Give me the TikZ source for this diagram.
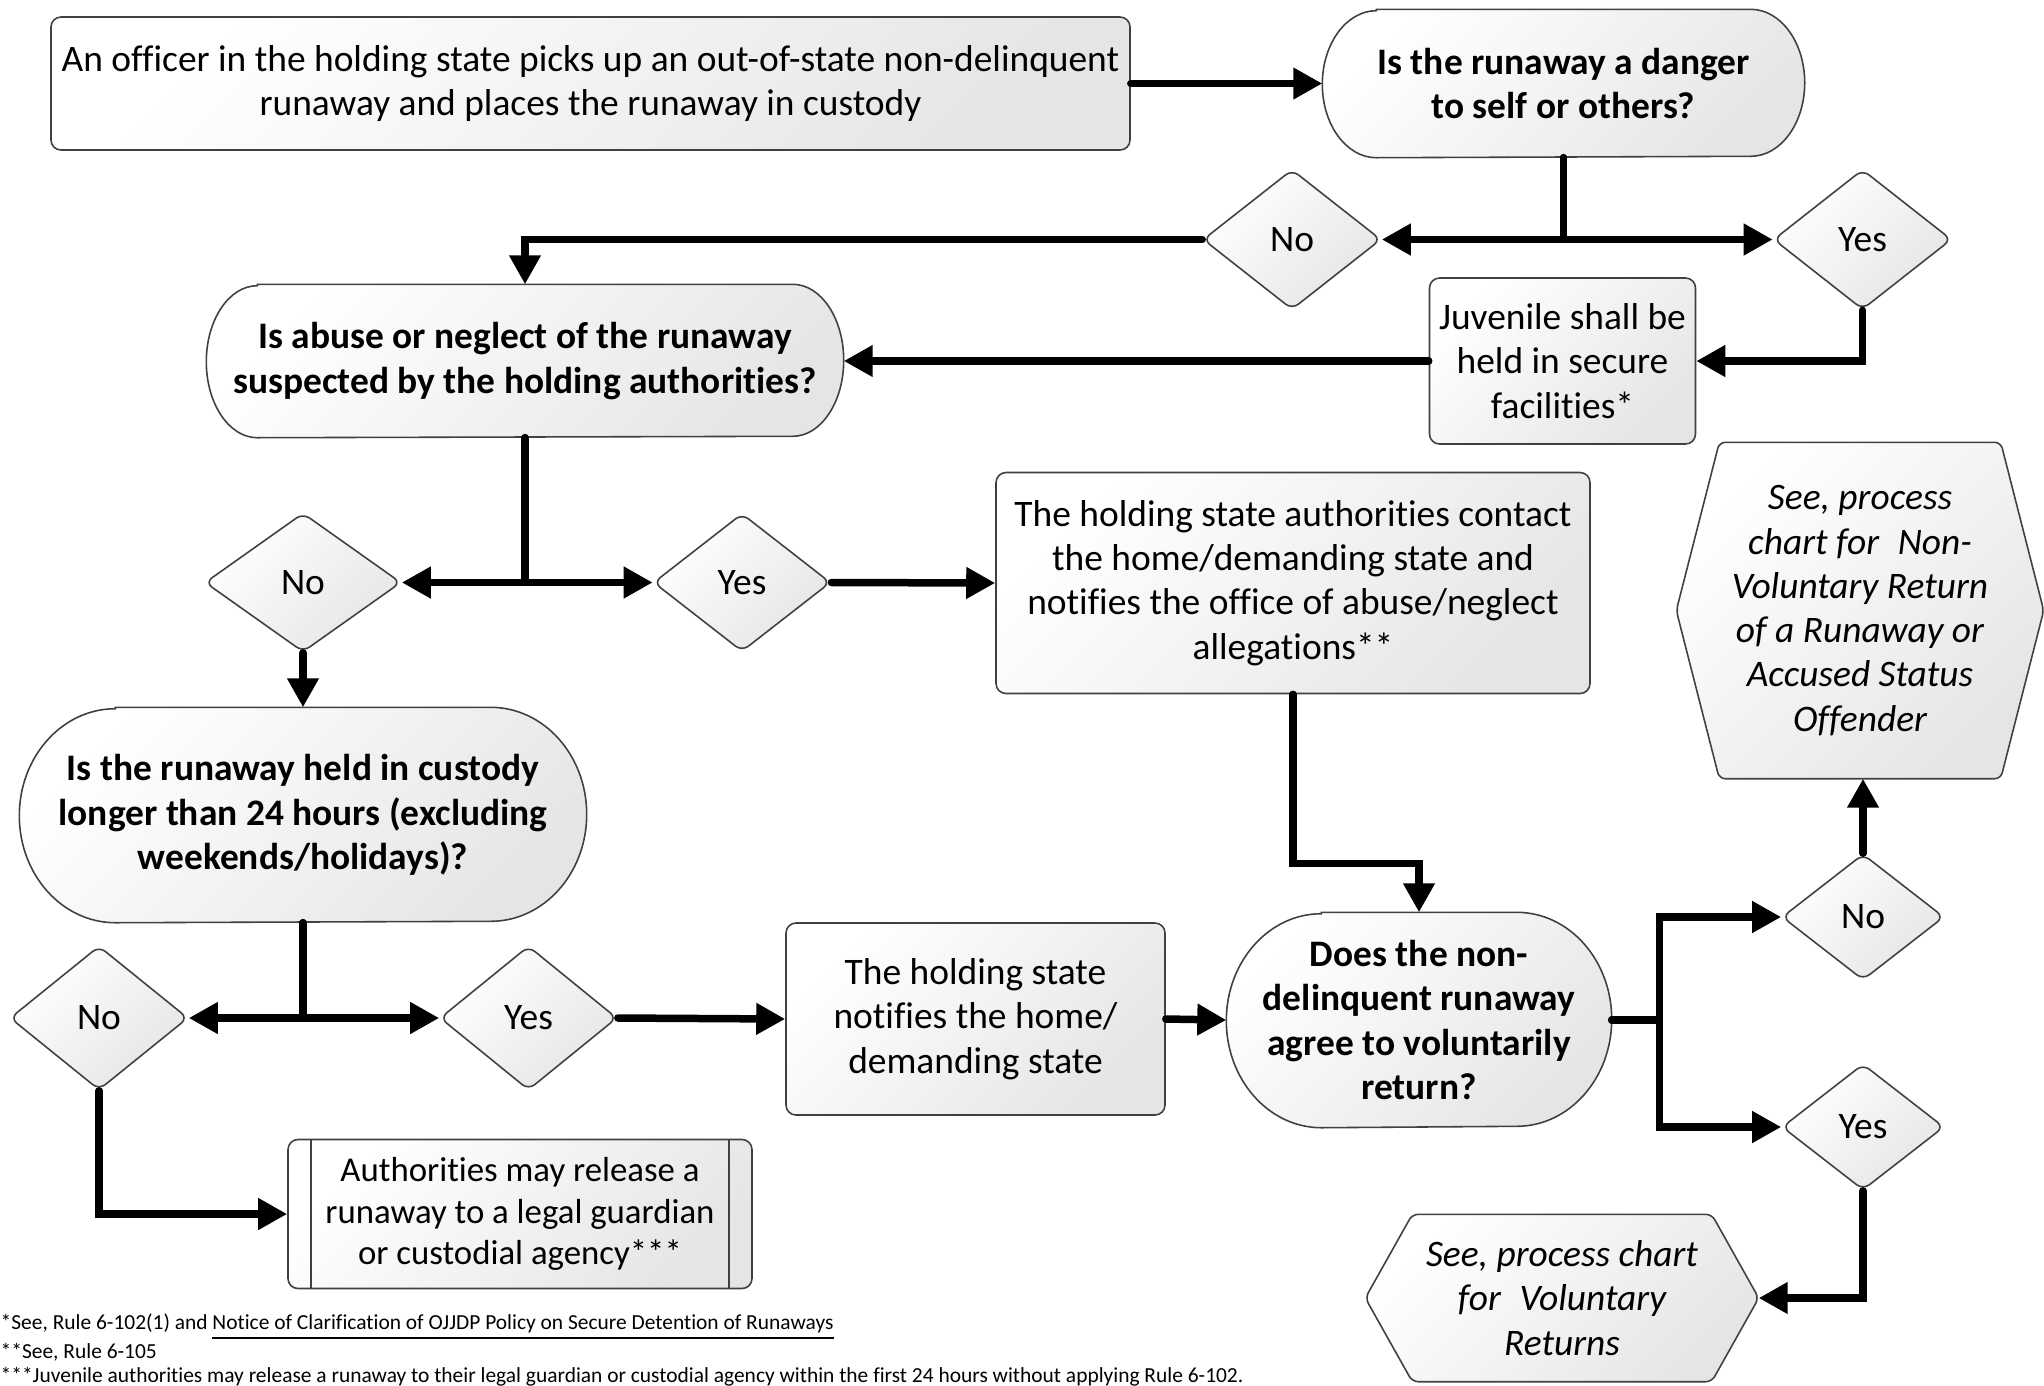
\documentclass[tikz,border=0pt]{standalone}
\usepackage{fontspec}
\setmainfont{Carlito}[Ligatures=NoCommon]
\usetikzlibrary{arrows.meta, shapes.geometric, backgrounds}

\begin{document}
\begin{tikzpicture}[
    every node/.style={font=\fontsize{10.65}{12.6}\selectfont},
    shaded/.style={top color=white, bottom color=black!10, shading angle=45},
    rule/.style={draw=black!75, line width=0.45pt},
    outline/.style={rule, shaded},
    box/.style={rectangle, outline, rounded corners=0.1cm, align=center, inner sep=0pt},
    term/.style={rectangle, align=center, inner sep=0pt, font=\fontsize{10.65}{12.6}\selectfont\bfseries},
    hexa/.style={rectangle, align=center, inner sep=0pt, font=\fontsize{10.65}{12.6}\selectfont\itshape},
    choice/.style={diamond, outline, rounded corners=0.08cm, inner sep=0pt},
    line/.style={line width=0.075cm, line cap=round},
    arrow/.style={line, -{Triangle[length=0.29cm, width=0.3cm]}},
    note/.style={anchor=west, inner sep=0pt, font=\fontsize{6.1}{7}\selectfont}
]
\useasboundingbox (0,0) rectangle (20.44,-13.85);

% Top row
\node[box, minimum width=10.79cm, minimum height=1.33cm] (start) at (5.905,-0.835)
    {An officer in the holding state picks up an out-of-state non-delinquent\\runaway and places the runaway in custody};
\node[term, minimum width=4.81cm, minimum height=1.47cm] (danger) at (15.635,-0.835)
    {Is the runaway a danger\\to self or others?};
\node[choice, minimum width=1.78cm, minimum height=1.40cm] (no1) at (12.92,-2.395) {No};
\node[choice, minimum width=1.78cm, minimum height=1.40cm] (yes1) at (18.625,-2.395) {Yes};
\node[box, minimum width=2.66cm, minimum height=1.66cm] (secure) at (15.625,-3.61)
    {Juvenile shall be\\held in secure\\facilities*};

% Abuse question
\node[term, minimum width=6.36cm, minimum height=1.52cm] (abuse) at (5.25,-3.61)
    {Is abuse or neglect of the runaway\\suspected by the holding authorities?};
\node[choice, minimum width=1.96cm, minimum height=1.39cm] (no2) at (3.03,-5.825) {No};
\node[choice, minimum width=1.77cm, minimum height=1.38cm] (yes2) at (7.42,-5.825) {Yes};
\node[box, minimum width=5.94cm, minimum height=2.21cm] (contact) at (12.93,-5.83)
    {The holding state authorities contact\\the home/demanding state and\\notifies the office of abuse/neglect\\allegations**};

% Custody question
\node[term, minimum width=5.66cm, minimum height=2.14cm] (custody) at (3.03,-8.15)
    {Is the runaway held in custody\\longer than 24 hours (excluding\\weekends/holidays)?};
\node[choice, minimum width=1.78cm, minimum height=1.44cm] (no3) at (0.99,-10.18) {No};
\node[choice, minimum width=1.77cm, minimum height=1.44cm] (yes3) at (5.285,-10.18) {Yes};
\node[box, minimum width=3.79cm, minimum height=1.92cm] (notifies) at (9.755,-10.19)
    {The holding state\\notifies the home/\\demanding state};
\node[box, minimum width=4.64cm, minimum height=1.49cm, font=\fontsize{9.9}{11.7}\selectfont] (release) at (5.20,-12.14)
    {Authorities may release a\\runaway to a legal guardian\\or custodial agency***};
\draw[rule] ([xshift=0.24cm]release.north west) -- ([xshift=0.24cm]release.south west);
\draw[rule] ([xshift=-0.24cm]release.north east) -- ([xshift=-0.24cm]release.south east);

% Voluntary return question
\node[term, minimum width=3.84cm, minimum height=2.14cm] (agree) at (14.19,-10.2)
    {Does the non-\\delinquent runaway\\agree to voluntarily\\return?};
\node[choice, minimum width=1.62cm, minimum height=1.26cm] (no4) at (18.63,-9.17) {No};
\node[choice, minimum width=1.62cm, minimum height=1.26cm] (yes4) at (18.63,-11.27) {Yes};
\node[hexa, minimum width=3.66cm, minimum height=3.35cm] (nonvol) at (18.60,-6.105)
    {See, process\\chart for\enspace Non-\\Voluntary Return\\of a Runaway or\\Accused Status\\Offender};
\node[hexa, minimum width=3.92cm, minimum height=1.66cm] (vol) at (15.62,-12.98)
    {See, process chart\\for\enspace Voluntary\\Returns};

% Outlines of terminators and hexagons
\begin{scope}[on background layer]
\foreach \n/\rx/\ry in {danger/0.54/0.735, abuse/0.51/0.76, custody/0.96/1.07, agree/0.95/1.07}
    \draw[outline] ([xshift=\rx cm]\n.north west) -- ([xshift=-\rx cm]\n.north east)
        arc[start angle=90, end angle=-90, x radius=\rx, y radius=\ry]
        -- ([xshift=\rx cm]\n.south west)
        arc[start angle=270, end angle=90, x radius=\rx, y radius=\ry] -- cycle;
\foreach \n/\ins in {nonvol/0.43, vol/0.47}
    \draw[outline, rounded corners=0.06cm] (\n.west) -- ([xshift=\ins cm]\n.north west)
        -- ([xshift=-\ins cm]\n.north east) -- (\n.east)
        -- ([xshift=-\ins cm]\n.south east) -- ([xshift=\ins cm]\n.south west) -- cycle;
\end{scope}

% Connectors
\draw[arrow] (start) -- (danger);
\draw[arrow] (danger.south) |- (no1.east);
\draw[arrow] (danger.south) |- (yes1.west);
\draw[arrow] (no1.west) -| (abuse.north);
\draw[arrow] (yes1.south) |- (secure.east);
\draw[arrow] (secure.west) -- (abuse.east);

\draw[arrow] (abuse.south) |- (no2.east);
\draw[arrow] (abuse.south) |- (yes2.west);
\draw[arrow] (yes2.east) -- (contact.west);
\draw[arrow] (no2.south) -- (custody.north);
\draw[arrow] (contact.south) -- ++(0,-1.69) -| (agree.north);

\draw[arrow] (custody.south) |- (no3.east);
\draw[arrow] (custody.south) |- (yes3.west);
\draw[arrow] (yes3.east) -- (notifies.west);
\draw[arrow] (notifies.east) -- (agree.west);
\draw[arrow] (no3.south) |- (release.west);

\draw[arrow] (agree.east) -- ++(0.48,0) |- (no4.west);
\draw[arrow] (agree.east) -- ++(0.48,0) |- (yes4.west);
\draw[arrow] (no4.north) -- (no4.north |- nonvol.south);
\draw[arrow] (yes4.south) |- (vol.east);

% Footnotes
\node[note] (note1) at (0,-13.27) {*See, Rule 6-102(1) and \underline{Notice of Clarification of OJJDP Policy on Secure Detention of Runaways}};
\node[note] (note2) at (0,-13.52) {**See, Rule 6-105};
\node[note] (note3) at (0,-13.77) {***Juvenile authorities may release a runaway to their legal guardian or custodial agency within the first 24 hours without applying Rule 6-102.};

\end{tikzpicture}
\end{document}
